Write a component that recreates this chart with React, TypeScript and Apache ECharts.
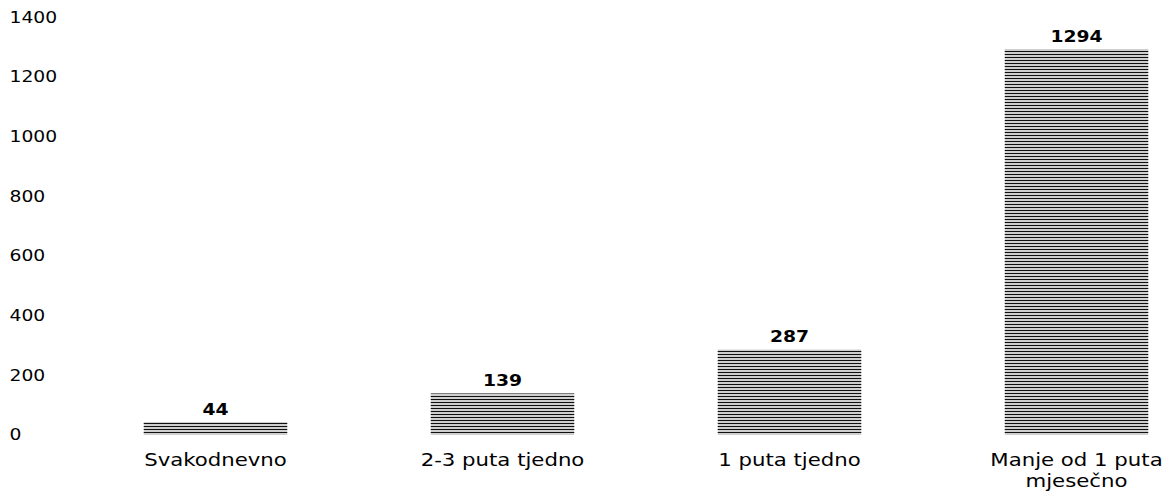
import React, { useEffect, useRef } from "react";
import * as echarts from "echarts";

const categories = ["Svakodnevno", "2-3 puta tjedno", "1 puta tjedno", "Manje od 1 puta\nmjesečno"];
const values = [44, 139, 287, 1294];
const yMin = 0;
const yMax = 1400;
const yInterval = 200;

const SCALE_X = 1.25;
const NATIVE_W = 1000;

export default function App() {
  const ref = useRef<HTMLDivElement>(null);
  useEffect(() => {
    if (!ref.current) return;
    const chart = echarts.init(ref.current, undefined, { renderer: "svg" });
    chart.setOption({
      animation: false,
      backgroundColor: "#ffffff",
      textStyle: { fontFamily: "DejaVu Sans", color: "#000" },
      grid: { left: 57.6, width: 918.4, top: 17.5, height: 418, containLabel: false },
      xAxis: {
        type: "category",
        data: categories,
        axisLine: { show: false },
        axisTick: { show: false },
        axisLabel: {
          color: "#000",
          fontSize: 17,
          fontFamily: "DejaVu Sans",
          margin: 15,
          lineHeight: 21,
          interval: 0,
        },
      },
      yAxis: {
        type: "value",
        min: yMin,
        max: yMax,
        interval: yInterval,
        splitLine: { show: false },
        axisLine: { show: false },
        axisTick: { show: false },
        axisLabel: {
          color: "#000",
          fontSize: 15,
          fontFamily: "DejaVu Sans",
          align: "left",
          margin: 50,
          formatter: (v: number) => String(v),
        },
      },
      series: [
        {
          type: "bar",
          data: values,
          barWidth: "50%",
          itemStyle: {
            color: "#cfcfcf",
            decal: {
              symbol: "rect",
              symbolSize: 1,
              color: "#111111",
              dashArrayX: [1, 0],
              dashArrayY: [1, 2],
              rotation: 0,
            },
          },
          label: {
            show: true,
            position: "top",
            distance: 5,
            color: "#000",
            fontSize: 15,
            fontWeight: "bold",
            fontFamily: "DejaVu Sans",
          },
        },
      ],
    });
    return () => chart.dispose();
  }, []);
  return (
    <div style={{ position: "absolute", left: 0, top: 0, width: 1169, height: 492, overflow: "hidden", background: "#fff" }}>
      <div
        ref={ref}
        style={{
          width: NATIVE_W,
          height: 492,
          transform: `scaleX(${SCALE_X})`,
          transformOrigin: "0 0",
        }}
      />
    </div>
  );
}
